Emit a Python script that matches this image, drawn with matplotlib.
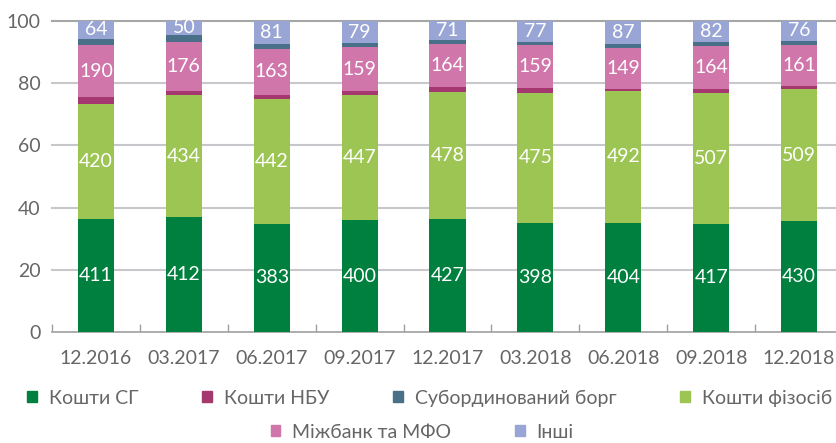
import numpy as np
import matplotlib.pyplot as plt
from matplotlib.patches import Patch

dates = ['12.2016', '03.2017', '06.2017', '09.2017', '12.2017',
         '03.2018', '06.2018', '09.2018', '12.2018']

# absolute values (labels); NBU and sub-debt
sg = [411, 412, 383, 400, 427, 398, 404, 417, 430]
nbu = [25, 14, 13, 14, 20, 15, 7, 15, 12]
sub_debt = [25, 26, 17, 14, 15, 10, 15, 15, 16]
fiz = [420, 434, 442, 447, 478, 475, 492, 507, 509]
mizhbank = [190, 176, 163, 159, 164, 159, 149, 164, 161]
other = [64, 50, 81, 79, 71, 77, 87, 82, 76]

names = ['Кошти СГ', 'Кошти НБУ', 'Субординований борг', 'Кошти фізосіб',
         'Міжбанк та МФО', 'Інші']
colors = ['#00803f', '#a5386e', '#4a6f89', '#9dc554', '#d076aa', '#99a6d5']
labelled = [True, False, False, True, True, True]
# order of segments from bottom to top (indices into names)
stack_order = [0, 3, 1, 4, 2, 5]

plt.rcParams['font.family'] = ['Lato', 'DejaVu Sans']
FS = 14
GRAY = '#666666'

series = np.array([sg, nbu, sub_debt, fiz, mizhbank, other], dtype=float)
share = series / series.sum(axis=0) * 100

fig = plt.figure(figsize=(8.36, 4.43), dpi=100)
ax = fig.add_axes([52 / 836, 111 / 443, 791 / 836, 311 / 443])

x = np.arange(len(dates))
bottom = np.zeros(len(dates))
for i in stack_order:
    ax.bar(x, share[i], 0.41, bottom=bottom, color=colors[i], zorder=3)
    if labelled[i]:
        for j in range(len(dates)):
            ax.text(x[j], bottom[j] + share[i][j] / 2, str(int(series[i][j])),
                    ha='center', va='center', color='white', fontsize=FS,
                    zorder=4)
    bottom += share[i]

ax.set_xlim(-0.5, 8.5)
ax.set_ylim(0, 100)
ax.set_yticks(range(0, 101, 20))
ax.set_xticks(x)
ax.set_xticklabels(dates)
ax.set_xticks(np.arange(-0.5, 9, 1), minor=True)
ax.tick_params(axis='x', which='major', length=0, pad=13, labelsize=FS,
               labelcolor=GRAY)
ax.tick_params(axis='x', which='minor', direction='in', length=6,
               color='#a0a0a0', width=1)
ax.tick_params(axis='y', length=0, pad=8, labelsize=FS, labelcolor=GRAY)

for s in ['top', 'right', 'left']:
    ax.spines[s].set_visible(False)
ax.spines['bottom'].set_color('#a0a0a0')
ax.spines['bottom'].set_linewidth(1.2)
ax.set_axisbelow(True)
for v in range(20, 101, 20):
    ax.axhline(v, color='#a6a6a6' if v == 100 else '#c8c8cc', lw=1.5,
               zorder=1, clip_on=False)

handles = [Patch(color=c) for c in colors]
leg_kw = dict(loc='center', frameon=False, handlelength=0.5, handleheight=0.5,
              handletextpad=0.6, columnspacing=3.3,
              prop={'size': FS}, labelcolor=GRAY)
fig.legend(handles[:4], names[:4], ncol=4,
           bbox_to_anchor=(0.514, 1 - 398 / 443), **leg_kw)
fig.legend(handles[4:], names[4:], ncol=2,
           bbox_to_anchor=(0.505, 1 - 432 / 443), **leg_kw)

fig.savefig('out.png', dpi=100)
